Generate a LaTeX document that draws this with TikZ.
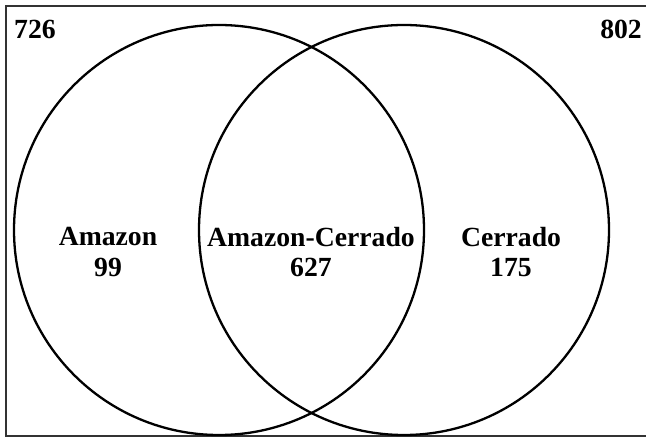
\documentclass[tikz,border=0pt]{standalone}
\usepackage{fontspec}
\setmainfont{Liberation Serif}
\begin{document}
\begin{tikzpicture}
  [x = 1bp, y = -1bp,
   setline/.style = {line width = 2.3bp, black},
   count/.style = {font = \fontsize{27.8}{31}\selectfont\bfseries, align = center, inner sep = 0pt}]
  \useasboundingbox (0,0) rectangle (646,439);
  \draw[line width = 1.3bp, black!80] (646,6) -- (6,6) -- (6,436) -- (646,436);
  \draw[setline] (219,230) circle (205);
  \draw[setline] (404,230) circle (205);
  \node[count] (amazon) at (108,252) {Amazon\\99};
  \node[count] (both) at (311,252) {Amazon-Cerrado\\627};
  \node[count] (cerrado) at (511,252) {Cerrado\\175};
  \node[count, anchor = west] (leftcount) at (14,29) {726};
  \node[count, anchor = east] (rightcount) at (642,29) {802};
\end{tikzpicture}
\end{document}
